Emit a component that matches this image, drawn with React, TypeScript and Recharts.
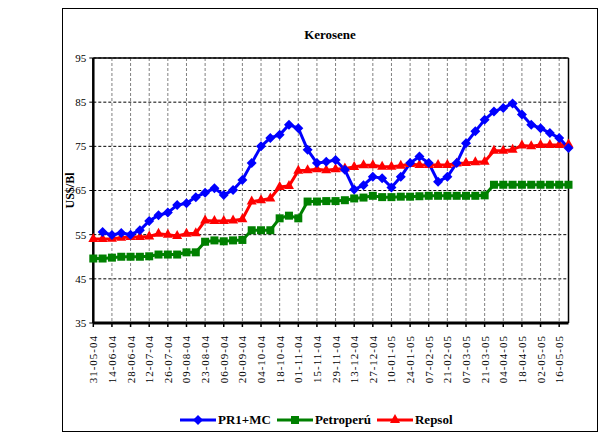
import { LineChart, Line, XAxis, YAxis, CartesianGrid, ReferenceLine } from "recharts";

const dates = [
  "31-05-04", "07-06-04", "14-06-04", "21-06-04", "28-06-04", "05-07-04", "12-07-04", "19-07-04",
  "26-07-04", "02-08-04", "09-08-04", "16-08-04", "23-08-04", "30-08-04", "06-09-04", "13-09-04",
  "20-09-04", "27-09-04", "04-10-04", "11-10-04", "18-10-04", "25-10-04", "01-11-04", "08-11-04",
  "15-11-04", "22-11-04", "29-11-04", "06-12-04", "13-12-04", "20-12-04", "27-12-04", "03-01-05",
  "10-01-05", "17-01-05", "24-01-05", "31-01-05", "07-02-05", "14-02-05", "21-02-05", "28-02-05",
  "07-03-05", "14-03-05", "21-03-05", "28-03-05", "04-04-05", "11-04-05", "18-04-05", "25-04-05",
  "02-05-05", "09-05-05", "16-05-05", "23-05-05",
];

const pr1mc = [
  null, 55.6, 54.9, 55.4, 55.0, 56.0, 58.1, 59.4, 60.0, 61.7, 62.1, 63.5, 64.5, 65.5, 64.0, 65.1,
  67.4, 71.2, 75.0, 76.9, 77.6, 79.9, 79.1, 74.2, 71.2, 71.5, 71.9, 69.7, 65.2, 66.2, 68.1, 67.8,
  65.7, 68.1, 71.2, 72.7, 71.2, 67.0, 68.1, 71.2, 75.7, 78.4, 81.0, 82.9, 83.7, 84.7, 82.2, 79.9,
  79.1, 78.0, 76.9, 74.6,
];

const petroperu = [
  49.6, 49.6, 49.8, 50.0, 50.0, 50.0, 50.1, 50.5, 50.5, 50.5, 51.0, 51.0, 53.4, 53.7, 53.5, 53.7,
  53.8, 56.0, 56.0, 56.0, 58.7, 59.3, 58.7, 62.5, 62.5, 62.6, 62.6, 62.8, 63.2, 63.4, 63.8, 63.5,
  63.5, 63.6, 63.6, 63.7, 63.8, 63.8, 63.8, 63.8, 63.8, 63.8, 63.9, 66.3, 66.3, 66.3, 66.3, 66.3,
  66.3, 66.3, 66.3, 66.3,
];

const repsol = [
  54.0, 54.0, 54.1, 54.3, 54.5, 54.5, 54.6, 55.2, 55.0, 54.7, 55.2, 55.3, 58.2, 58.1, 58.1, 58.2,
  58.5, 62.5, 62.8, 63.2, 65.8, 66.0, 69.5, 69.6, 69.8, 69.6, 69.8, 70.0, 70.3, 70.7, 70.7, 70.4,
  70.4, 70.6, 71.0, 70.8, 70.8, 70.8, 70.8, 71.1, 71.2, 71.4, 71.5, 74.0, 74.0, 74.2, 75.2, 75.0,
  75.3, 75.3, 75.3, 75.4,
];

const yTicks = [35, 45, 55, 65, 75, 85, 95];

const data = dates.map((date, i) => ({
  date,
  pr1mc: pr1mc[i],
  petroperu: petroperu[i],
  repsol: repsol[i],
}));

const font = '"Liberation Serif", "Times New Roman", Times, serif';

const Diamond = (props: any) => {
  const { cx, cy, value, index } = props;
  if (cx == null || cy == null || value == null) return <g key={`d${index}`} />;
  return (
    <polygon
      key={`d${index}`}
      points={`${cx},${cy - 5} ${cx + 5},${cy} ${cx},${cy + 5} ${cx - 5},${cy}`}
      fill="#0000ff"
    />
  );
};

const Square = (props: any) => {
  const { cx, cy, index } = props;
  if (cx == null || cy == null) return <g key={`s${index}`} />;
  return <rect key={`s${index}`} x={cx - 4} y={cy - 4} width={8} height={8} fill="#008000" />;
};

const Triangle = (props: any) => {
  const { cx, cy, index } = props;
  if (cx == null || cy == null) return <g key={`t${index}`} />;
  return (
    <polygon
      key={`t${index}`}
      points={`${cx},${cy - 6} ${cx + 5},${cy + 3} ${cx - 5},${cy + 3}`}
      fill="#ff0000"
    />
  );
};

const DateTick = (props: any) => {
  const { x, y, payload } = props;
  const ty = y + 6;
  return (
    <text
      x={x}
      y={ty}
      dy={4}
      transform={`rotate(-90 ${x} ${ty})`}
      textAnchor="end"
      fontSize={11}
      letterSpacing={1}
      style={{ fontFamily: font }}
      fill="#000"
    >
      {payload.value}
    </text>
  );
};

// vertical gridlines only at the labelled (every second) categories
const gridX = ({ offset }: any) => {
  if (!offset) return [];
  const step = offset.width / (dates.length - 1);
  return dates.map((_, i) => i).filter((i) => i % 2 === 0).map((i) => offset.left + i * step);
};

const legendItems = [
  { name: "PR1+MC", color: "#0000ff", shape: "diamond" },
  { name: "Petroperú", color: "#008000", shape: "square" },
  { name: "Repsol", color: "#ff0000", shape: "triangle" },
];

function LegendIcon({ color, shape }: { color: string; shape: string }) {
  return (
    <svg width={36} height={12} style={{ marginRight: 2 }}>
      <line x1={0} y1={6} x2={36} y2={6} stroke={color} strokeWidth={3} />
      {shape === "diamond" && <polygon points="18,1 23,6 18,11 13,6" fill={color} />}
      {shape === "square" && <rect x={14} y={2} width={8} height={8} fill={color} />}
      {shape === "triangle" && <polygon points="18,0 23,9 13,9" fill={color} />}
    </svg>
  );
}

export default function App() {
  return (
    <div style={{ position: "relative", width: 600, height: 427, fontFamily: font }}>
      <div
        style={{
          position: "absolute",
          left: 54,
          top: 0,
          width: 536,
          height: 424,
          border: "1px solid #000",
          boxSizing: "border-box",
        }}
      />
      <div
        style={{
          position: "absolute",
          left: 54,
          width: 536,
          top: 19,
          textAlign: "center",
          fontWeight: "bold",
          fontSize: 13,
        }}
      >
        Kerosene
      </div>
      <LineChart
        width={600}
        height={427}
        data={data}
        margin={{ top: 50, right: 39.5, left: 55.3, bottom: 42 }}
        style={{ position: "absolute", left: 0, top: 0, fontFamily: font }}
      >
        <CartesianGrid horizontal={true} vertical={false} stroke="#000" strokeDasharray="3 2" />
        <CartesianGrid
          horizontal={false}
          vertical={true}
          stroke="#808080"
          strokeDasharray="3 2"
          verticalCoordinatesGenerator={gridX}
        />
        <XAxis
          dataKey="date"
          interval={1}
          height={70}
          tick={<DateTick />}
          tickSize={4}
          tickLine={{ stroke: "#000", strokeWidth: 1.5 }}
          axisLine={{ stroke: "#000", strokeWidth: 3 }}
        />
        <YAxis
          domain={[35, 95]}
          ticks={yTicks}
          width={30}
          tickSize={4}
          tickMargin={3}
          tick={{ fontSize: 11, fill: "#000", style: { fontFamily: font } }}
          tickLine={{ stroke: "#000" }}
          axisLine={{ stroke: "#000", strokeWidth: 2.5 }}
          label={{
            value: "US$/Bl",
            angle: -90,
            position: "center",
            dx: -9,
            style: { fontFamily: font, fontWeight: "bold", fontSize: 12, fill: "#000" },
          }}
        />
        <ReferenceLine y={95} stroke="#000" strokeWidth={1.5} />
        <ReferenceLine x={dates[dates.length - 1]} stroke="#000" strokeWidth={1.5} />
        <Line
          dataKey="petroperu"
          stroke="#008000"
          strokeWidth={3}
          dot={Square}
          activeDot={false}
          isAnimationActive={false}
        />
        <Line
          dataKey="repsol"
          stroke="#ff0000"
          strokeWidth={3}
          dot={Triangle}
          activeDot={false}
          isAnimationActive={false}
        />
        <Line
          dataKey="pr1mc"
          stroke="#0000ff"
          strokeWidth={3}
          dot={Diamond}
          activeDot={false}
          isAnimationActive={false}
        />
      </LineChart>
      <div
        style={{
          position: "absolute",
          left: 172,
          top: 404,
          display: "flex",
          alignItems: "center",
          fontWeight: "bold",
          fontSize: 13,
        }}
      >
        {legendItems.map((it) => (
          <div key={it.name} style={{ display: "flex", alignItems: "center", marginRight: 6 }}>
            <LegendIcon color={it.color} shape={it.shape} />
            <span>{it.name}</span>
          </div>
        ))}
      </div>
    </div>
  );
}
